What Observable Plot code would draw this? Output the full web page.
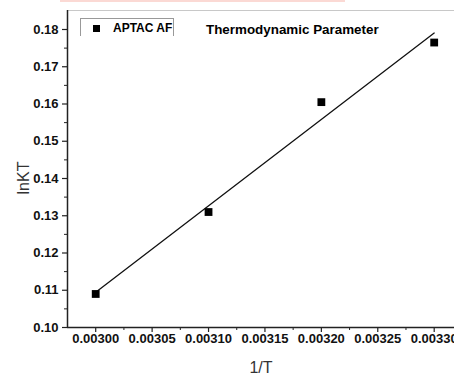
<!DOCTYPE html>
<html>
<head>
<meta charset="utf-8">
<script src="https://cdn.jsdelivr.net/npm/d3@7"></script>
<script src="https://cdn.jsdelivr.net/npm/@observablehq/plot@0.6"></script>
<style>
  html, body { margin: 0; padding: 0; background: #fff; }
  #wrap { position: relative; width: 454px; height: 376px; overflow: hidden; font-family: "Liberation Sans", Arial, sans-serif; }
  #pink { position: absolute; left: 60px; top: 0; width: 285px; height: 2px; background: #fbd9d4; }
  #legend { position: absolute; left: 80px; top: 18px; width: 94px; height: 18px; border: 1px solid #999; border-bottom: none; box-sizing: border-box; background: #fff; }
  #legend .sq { position: absolute; left: 12px; top: 6px; width: 7px; height: 7px; background: #000; }
  #legend .lb { position: absolute; left: 32px; top: 2px; font-weight: bold; font-size: 12px; color: #000; }
  #title { position: absolute; left: 206px; top: 22px; font-weight: bold; font-size: 13.4px; color: #000; }
</style>
</head>
<body>
<div id="wrap"><div id="pink"></div></div>
<script>
const invT = [0.00300, 0.00310, 0.00320, 0.00330];
const lnKT = [0.109, 0.131, 0.1605, 0.1765];
const xTicks = [0.00300, 0.00305, 0.00310, 0.00315, 0.00320, 0.00325, 0.00330];
const xMinor = [0.002975, 0.003025, 0.003075, 0.003125, 0.003175, 0.003225, 0.003275, 0.003325];
const yTicks = [0.10, 0.11, 0.12, 0.13, 0.14, 0.15, 0.16, 0.17, 0.18];
const yMinor = [0.105, 0.115, 0.125, 0.135, 0.145, 0.155, 0.165, 0.175];
const seriesName = "APTAC AF";
const titleText = "Thermodynamic Parameter";

const data = invT.map((x, i) => ({x, y: lnKT[i]}));
const xDom = [0.002975, 0.003318];
const yDom = [0.10, 0.1851];

const chart = Plot.plot({
  width: 454,
  height: 376,
  marginLeft: 67,
  marginRight: 0,
  marginTop: 10,
  marginBottom: 49,
  style: {fontFamily: "Liberation Sans, Arial, sans-serif", background: "transparent", overflow: "visible"},
  x: {domain: xDom},
  y: {domain: yDom},
  marks: [
    Plot.ruleY([yDom[1]], {stroke: "#c8c8c8", strokeWidth: 1}),
    Plot.axisX({ticks: xTicks, tickFormat: d3.format(".5f"), tickSize: 5, tickPadding: 1, fontSize: 13, fontWeight: "bold", stroke: "#222", strokeWidth: 1.2, fill: "#111", label: null}),
    Plot.axisX({ticks: xMinor.filter(d => d > xDom[0] && d < xDom[1]), tickSize: 3, text: null, stroke: "#222", label: null}),
    Plot.axisY({ticks: yTicks, tickFormat: d3.format(".2f"), tickSize: 5, tickPadding: 4, fontSize: 13, fontWeight: "bold", stroke: "#222", strokeWidth: 1.2, fill: "#111", label: null}),
    Plot.axisY({ticks: yMinor, tickSize: 3, text: null, stroke: "#222", label: null}),
    Plot.ruleY([yDom[0]], {stroke: "#222", strokeWidth: 1.5}),
    Plot.ruleX([xDom[0]], {stroke: "#222", strokeWidth: 1.5}),
    Plot.text(["1/T"], {frameAnchor: "bottom", lineAnchor: "middle", dy: 40, fontSize: 16, fill: "#333"}),
    Plot.text(["lnKT"], {frameAnchor: "left", textAnchor: "middle", lineAnchor: "middle", dx: -44, dy: 9, rotate: -90, fontSize: 16, fill: "#333"}),
    Plot.linearRegressionY(data, {x: "x", y: "y", ci: 0, stroke: "#111", strokeWidth: 1.3}),
    Plot.dot(data, {x: "x", y: "y", symbol: "square", r: 4.4, fill: "#000", stroke: "none"})
  ]
});

const wrap = document.getElementById("wrap");
chart.style.position = "absolute";
chart.style.left = "0";
chart.style.top = "0";
wrap.appendChild(chart);

const legend = document.createElement("div");
legend.id = "legend";
legend.innerHTML = '<div class="sq"></div><div class="lb"></div>';
legend.querySelector(".lb").textContent = seriesName;
wrap.appendChild(legend);

const title = document.createElement("div");
title.id = "title";
title.textContent = titleText;
wrap.appendChild(title);
</script>
</body>
</html>
